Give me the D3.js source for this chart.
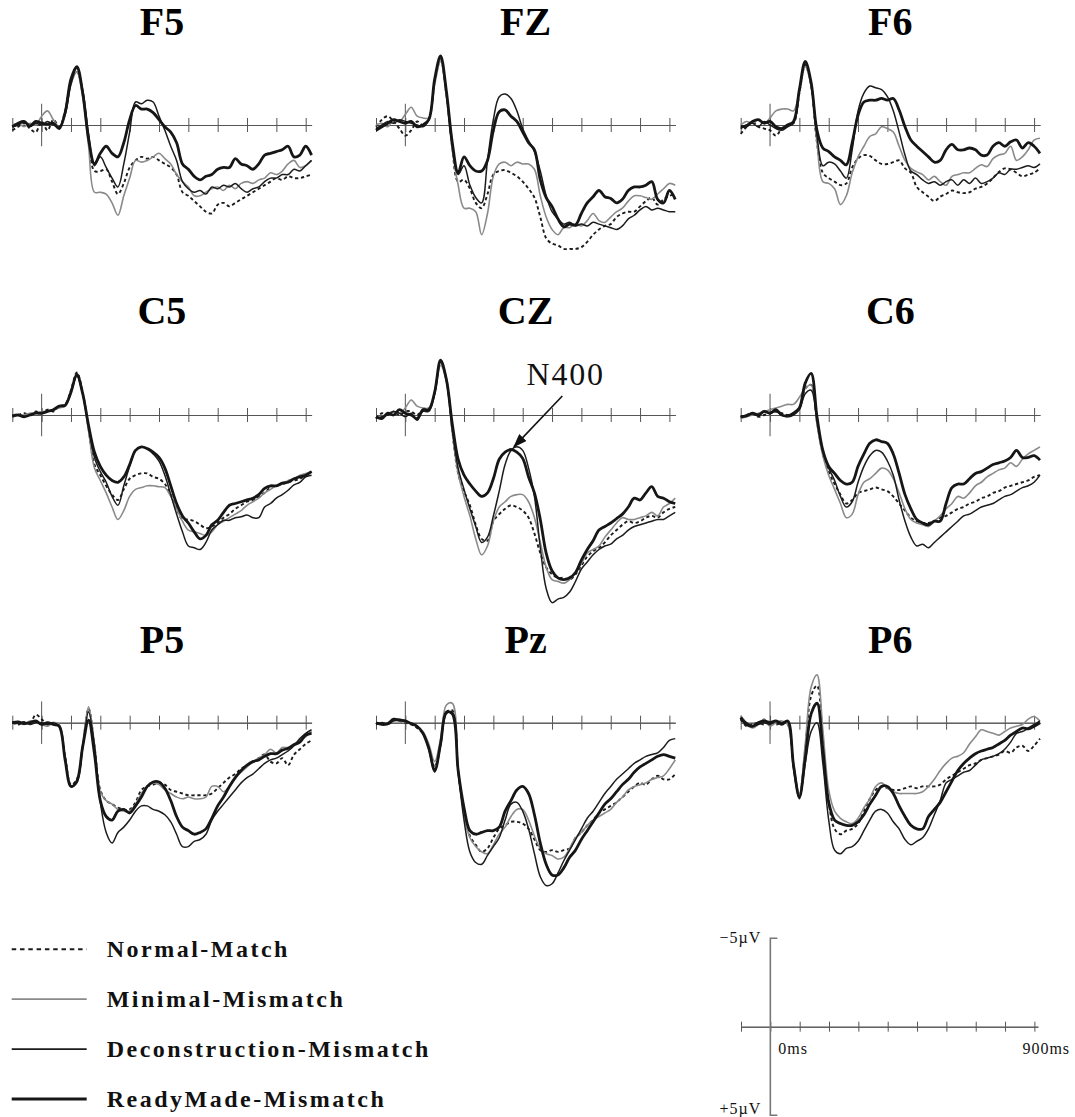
<!DOCTYPE html>
<html>
<head>
<meta charset="utf-8">
<script src="https://cdn.jsdelivr.net/npm/d3@7"></script>
<style>
  html, body { margin: 0; padding: 0; background: #fff; }
  svg { display: block; }
  .title { font-family: "Liberation Serif", "Times New Roman", serif; font-weight: bold; font-size: 40px; fill: #000; }
  .legend-label { font-family: "Liberation Serif", "Times New Roman", serif; font-weight: bold; font-size: 24px; letter-spacing: 2.5px; fill: #111; }
  .scale-label { font-family: "Liberation Serif", "Times New Roman", serif; font-size: 16px; letter-spacing: 1px; fill: #111; }
  .n400 { font-family: "Liberation Serif", "Times New Roman", serif; font-size: 32px; letter-spacing: 1.8px; fill: #111; }
  .axis path, .axis line { stroke: #555; stroke-width: 1; }
</style>
</head>
<body>
<div id="chart"></div>
<script>
// sample times (ms) shared by every waveform
const times = [-100,-80,-60,-40,-20,0,20,40,60,80,100,120,140,160,180,200,220,240,260,280,300,320,340,360,380,400,
  420,440,460,480,500,520,540,560,580,600,620,640,660,680,700,720,740,760,780,800,820,840,860,880,900,920];
const tickTimes = [-100,0,100,200,300,400,500,600,700,800,900];
const electrodes = ['F5','FZ','F6','C5','CZ','C6','P5','Pz','P6'];
const conditions = ['Normal-Match','Minimal-Mismatch','Deconstruction-Mismatch','ReadyMade-Mismatch'];

// amplitudes in µV (negative plotted up)
const f5Normal = [0.3,0.1,-0.1,0.2,0.4,-0.2,0.3,-0.3,0.1,
  -0.8,-2.5,-3.0,-1.8,0.8,2.6,2.6,2.5,3.2,3.9,3.3,
  2.4,2.0,1.8,1.9,1.8,2.0,2.2,2.4,2.8,3.8,4.0,
  4.3,4.6,4.9,5.0,4.5,4.4,4.6,4.4,4.2,4.0,3.8,
  3.6,3.4,3.2,3.0,3.1,2.9,3.0,3.0,2.9,2.8];
const f5Minimal = [0.0,-0.1,0.1,-0.1,0.0,-0.5,-0.8,-0.3,0.1,
  -0.6,-2.3,-3.0,-1.6,1.2,3.8,3.8,3.9,4.4,5.1,4.0,
  3.0,2.0,2.1,2.0,1.8,1.6,1.9,2.2,2.8,3.2,3.5,
  4.0,4.0,3.8,3.6,3.5,3.7,3.4,3.6,3.3,3.2,3.3,
  3.1,3.0,2.7,2.8,2.6,2.2,2.0,2.4,2.3,2.0];
const f5Decon = [0.1,0.0,-0.2,0.1,-0.1,0.0,-0.2,0.0,0.1,
  -0.6,-2.3,-3.2,-2.0,0.5,2.3,1.8,2.4,3.0,3.5,2.2,
  0.4,-1.3,-1.2,-1.4,-1.3,-0.5,0.3,1.2,2.0,3.2,3.6,
  3.8,3.7,3.9,3.5,3.6,3.4,3.5,3.3,3.6,3.8,3.6,
  3.5,3.2,3.0,3.0,2.8,2.8,2.5,2.6,2.3,2.0];
const f5Ready = [0.1,-0.1,-0.2,0.05,-0.2,-0.1,-0.05,-0.1,0.2,
  -0.7,-2.6,-3.3,-1.8,0.8,2.2,1.6,1.2,1.6,1.8,1.0,
  -0.3,-1.1,-0.9,-0.9,-0.7,-0.3,0.1,0.4,1.0,2.2,2.5,
  2.9,3.1,2.9,2.8,2.5,2.4,2.4,1.9,2.2,2.3,2.5,
  2.2,1.7,1.6,1.5,1.4,1.2,1.8,1.7,1.2,1.7];

const fzNormal = [0.1,-0.3,-0.5,-0.2,0.2,0.6,0.3,-0.2,0.0,
  -0.3,-2.4,-3.7,-1.7,1.3,3.2,3.1,3.6,4.4,4.7,3.9,
  2.8,2.6,2.55,2.7,2.9,3.2,3.6,4.1,5.2,6.4,6.7,
  6.8,7.0,7.0,7.0,6.9,6.6,6.2,5.9,5.7,5.6,5.2,
  5.0,4.9,4.9,4.6,4.3,4.1,4.5,4.2,4.0,3.9];
const fzMinimal = [0.0,-0.1,0.1,-0.3,-0.2,-0.6,-1.0,-0.5,-0.4,
  -0.4,-2.3,-3.6,-1.6,1.4,3.4,4.7,4.7,4.9,6.2,5.0,
  2.9,2.2,2.1,2.3,2.1,2.2,2.2,2.5,4.0,5.2,5.9,
  6.2,5.8,5.8,5.6,5.7,5.4,5.0,5.4,5.5,5.2,4.9,
  4.7,4.3,4.0,4.0,4.1,4.2,3.9,3.6,3.3,3.4];
const fzDecon = [0.2,0.0,-0.2,-0.1,-0.3,-0.2,-0.1,0.0,0.1,
  -0.3,-2.5,-3.8,-1.8,1.2,2.8,2.3,3.4,4.1,4.4,2.0,
  -0.3,-1.6,-1.75,-1.5,-0.8,0.2,0.9,1.5,2.6,4.0,4.9,
  5.3,5.6,5.5,5.7,5.6,5.7,5.5,5.6,5.7,5.8,5.9,
  5.7,5.3,5.1,4.8,4.6,4.8,4.7,4.8,4.9,4.9];
const fzReady = [0.3,0.1,-0.1,-0.3,-0.2,-0.1,-0.2,0.1,0.0,
  -0.3,-2.6,-3.9,-1.9,1.0,2.7,1.8,2.3,2.6,2.6,2.0,
  0.3,-0.75,-0.85,-0.5,-0.2,0.4,1.0,1.4,3.1,4.1,4.6,
  5.3,5.75,5.6,5.65,5.0,4.4,4.05,3.7,4.05,4.15,4.4,
  4.2,3.7,3.5,3.5,3.4,3.2,4.2,4.4,3.7,4.2];

const f6Normal = [0.5,0.1,-0.2,0.1,0.2,0.3,0.6,0.2,0.0,
  -0.1,-1.8,-3.4,-2.2,1.0,2.7,3.0,3.2,3.4,3.3,2.4,
  1.9,1.7,1.75,2.0,2.2,2.2,2.1,2.0,2.45,2.7,3.5,
  3.8,4.05,4.3,4.05,3.9,3.7,3.8,3.85,3.8,3.6,3.5,
  3.3,3.0,2.65,2.45,2.5,2.7,2.9,2.8,2.7,2.45];
const f6Minimal = [0.0,-0.2,-0.1,-0.3,-0.1,-0.4,-0.8,-0.9,-0.9,
  -0.8,-1.9,-3.3,-2.2,1.0,3.2,3.3,3.6,4.5,4.0,2.7,
  1.8,1.2,0.65,0.5,0.1,0.2,0.4,1.2,2.0,2.45,2.65,
  2.8,3.1,2.9,3.2,3.4,2.9,2.8,2.7,2.7,2.45,2.25,
  2.35,1.9,1.7,1.6,1.2,2.0,1.8,1.4,0.85,0.75];
const f6Decon = [0.2,0.0,-0.1,0.1,-0.2,0.0,0.2,0.3,0.1,
  -0.1,-1.9,-3.5,-2.4,0.6,2.3,2.1,2.2,2.6,3.0,1.4,
  -0.8,-1.8,-2.2,-2.1,-2.0,-1.6,-0.8,0.4,1.7,2.6,2.8,
  3.1,3.3,3.2,3.4,3.2,3.1,3.4,3.1,3.3,3.0,3.3,
  3.2,3.0,2.7,2.8,2.5,2.5,2.4,2.3,2.4,2.2];
const f6Ready = [0.1,0.05,-0.2,-0.3,-0.1,-0.2,0.1,0.2,0.0,
  -0.2,-2.0,-3.6,-2.4,0.3,1.3,1.5,1.8,2.0,2.25,1.0,
  -0.55,-1.3,-1.4,-1.4,-1.5,-1.4,-1.5,-0.85,0.1,0.85,1.2,
  1.5,1.8,2.1,2.0,1.4,1.1,1.4,1.4,1.3,1.4,1.7,
  1.7,1.2,1.0,1.2,0.95,0.85,1.3,1.0,1.2,1.6];

const c5Normal = [0.1,0.0,-0.1,0.0,-0.2,-0.1,-0.3,-0.2,-0.5,
  -0.6,-1.4,-2.4,-1.3,0.8,2.8,3.4,4.0,4.5,4.8,4.2,
  3.6,3.4,3.3,3.3,3.5,3.6,3.9,4.5,5.3,5.9,5.9,
  6.0,6.2,6.4,6.3,6.1,5.8,5.6,5.3,5.1,4.9,4.8,
  4.6,4.4,4.1,4.0,3.9,3.8,3.7,3.6,3.4,3.2];
const c5Minimal = [0.1,0.0,0.0,-0.1,-0.1,-0.2,-0.2,-0.3,-0.4,
  -0.5,-1.2,-2.2,-1.2,0.9,3.0,3.7,4.4,5.2,5.9,5.4,
  4.6,4.2,4.1,4.0,4.0,4.05,4.1,4.6,5.3,6.0,6.5,
  6.6,6.7,6.8,6.6,6.2,6.0,5.8,5.6,5.4,5.1,4.9,
  4.7,4.4,4.2,4.0,3.9,3.7,3.6,3.4,3.3,3.2];
const c5Decon = [0.05,0.0,0.1,0.0,-0.1,-0.1,-0.2,-0.3,-0.5,
  -0.55,-1.3,-2.2,-1.2,0.7,2.4,3.2,3.8,4.6,5.1,4.0,
  2.9,2.0,1.8,1.9,2.2,2.6,3.4,4.5,5.6,6.6,7.4,
  7.5,7.6,7.2,6.5,6.2,5.95,5.95,5.8,5.75,5.65,5.8,
  5.8,5.2,5.0,4.7,4.5,4.25,3.95,3.8,3.5,3.4];
const c5Ready = [0.05,0.0,0.1,0.0,-0.1,-0.1,-0.2,-0.3,-0.5,
  -0.55,-1.3,-2.3,-1.2,0.6,2.1,2.9,3.4,3.7,3.8,3.5,
  2.8,2.0,1.8,1.9,2.1,2.4,3.0,4.0,5.0,5.7,6.1,
  6.6,7.0,6.8,6.2,5.95,5.5,5.1,5.0,4.9,4.8,4.7,
  4.5,4.15,4.0,4.0,3.85,3.8,3.6,3.5,3.4,3.2];

const czNormal = [0.2,-0.1,0.0,-0.2,0.0,-0.2,-0.2,0.0,-0.3,
  -0.3,-1.3,-3.0,-2.0,0.9,3.3,4.3,5.1,6.2,7.0,7.1,
  6.0,5.6,5.3,5.1,5.2,5.4,5.8,6.7,7.8,8.6,9.0,
  9.2,9.2,9.3,9.0,8.5,8.0,7.7,7.5,7.2,6.8,6.5,
  6.2,6.0,6.1,6.0,5.8,5.7,5.8,5.5,5.3,5.2];
const czMinimal = [0.2,0.1,-0.1,-0.2,-0.1,-0.4,-0.85,-0.5,-0.4,
  -0.4,-1.2,-2.8,-1.9,1.0,3.3,4.6,5.7,7.0,7.9,7.4,
  6.0,5.2,4.9,4.6,4.5,4.5,4.9,5.8,7.2,8.6,9.3,
  9.4,9.5,9.3,8.9,8.4,7.8,7.6,7.4,6.9,6.5,6.1,
  5.8,5.9,5.9,5.8,5.7,5.5,5.7,5.2,5.0,4.7];
const czDecon = [0.2,0.1,0.0,-0.2,-0.1,0.1,-0.1,0.3,-0.2,
  -0.2,-1.2,-3.0,-2.0,0.8,3.0,4.2,5.3,6.3,7.2,6.9,
  5.7,4.3,2.8,2.0,1.8,2.0,3.0,4.6,7.5,9.8,10.6,
  10.4,10.3,10.0,9.4,8.7,8.3,7.9,7.6,7.4,7.3,7.0,
  6.8,6.5,6.3,6.2,6.1,6.0,5.9,5.9,5.7,5.5];
const czReady = [0.1,0.2,-0.1,0.0,-0.3,-0.1,0.0,0.2,-0.3,
  -0.3,-1.3,-3.1,-2.0,0.5,2.5,3.4,3.9,4.3,4.6,4.4,
  3.6,2.5,2.1,1.95,2.1,2.45,3.5,4.4,5.9,7.8,8.8,
  9.2,9.3,9.2,8.9,8.2,7.6,7.1,6.5,6.3,6.1,5.85,
  5.6,5.2,4.7,4.8,4.4,4.05,4.6,4.7,4.9,5.0];

const c6Normal = [0.1,0.0,-0.1,0.1,0.0,-0.1,-0.2,-0.1,0.0,
  -0.1,-0.4,-1.5,-1.7,0.4,2.2,3.2,3.9,4.5,5.0,4.8,
  4.4,4.3,4.2,4.1,4.2,4.3,4.6,5.0,5.4,5.8,6.0,
  6.1,6.1,6.0,5.8,5.7,5.5,5.3,5.2,5.0,4.9,4.7,
  4.6,4.4,4.3,4.1,4.0,3.9,3.8,3.7,3.5,3.4];
const c6Minimal = [0.2,0.1,0.0,-0.1,-0.2,-0.3,-0.4,-0.5,-0.6,
  -0.6,-1.0,-1.5,-1.7,0.5,2.3,3.4,4.2,5.0,5.8,5.6,
  4.5,3.8,3.6,3.3,3.0,3.1,3.6,4.4,5.3,5.9,6.1,
  6.2,6.3,6.0,5.7,5.3,5.0,4.6,4.7,4.4,4.0,3.8,
  3.5,3.3,3.1,3.0,2.7,2.9,2.5,2.2,2.0,1.8];
const c6Decon = [0.1,0.0,-0.1,0.05,-0.2,-0.1,-0.2,0.0,0.1,
  0.0,-0.3,-1.2,-1.4,0.3,2.0,3.0,3.7,4.6,5.2,4.9,
  3.8,2.9,2.3,2.0,2.1,2.6,3.4,4.8,6.0,6.9,7.4,
  7.3,7.5,7.2,6.9,6.6,6.3,6.0,5.7,5.6,5.4,5.2,
  5.1,5.0,4.8,4.6,4.5,4.3,4.1,4.0,3.8,3.4];
const c6Ready = [0.1,0.05,-0.1,0.0,-0.2,-0.1,-0.3,0.0,0.05,
  -0.1,-0.4,-1.8,-2.35,0.1,2.0,2.9,3.3,3.7,3.9,3.8,
  2.9,2.2,1.6,1.4,1.5,1.6,2.2,3.3,4.5,5.3,5.9,
  6.1,6.2,6.0,6.0,5.0,4.1,3.9,3.9,3.6,3.3,3.2,
  3.0,2.8,2.7,2.6,2.4,2.0,2.4,2.4,2.3,2.55];

const p5Normal = [0.0,0.1,0.0,0.05,-0.45,-0.2,0.1,0.0,0.2,
  1.9,3.5,3.2,1.3,-0.8,1.3,3.8,4.4,4.6,4.8,4.9,
  4.9,4.5,3.8,3.6,3.5,3.4,3.5,3.8,3.9,4.0,4.1,
  4.1,4.1,4.1,4.0,3.7,3.4,3.1,2.9,2.6,2.4,2.2,
  2.0,1.8,2.2,2.3,2.0,2.4,1.8,1.5,1.2,1.0];
const p5Minimal = [0.0,0.0,0.1,-0.1,0.0,0.1,0.2,0.0,0.1,
  2.0,3.6,3.3,1.2,-0.9,1.2,3.9,4.4,4.6,4.9,5.0,
  5.0,4.6,4.0,3.6,3.4,3.5,3.8,4.0,4.2,4.3,4.2,
  4.3,4.3,4.2,3.6,3.6,3.9,3.6,3.1,2.8,2.5,2.2,
  2.0,1.8,1.5,1.7,1.4,1.4,1.2,1.0,0.8,0.5];
const p5Decon = [0.0,0.05,-0.05,0.1,0.0,0.0,0.1,0.0,0.2,
  2.0,3.6,3.4,1.4,-0.6,1.3,4.5,6.2,6.8,6.2,5.9,
  5.5,5.0,4.7,4.7,4.9,5.0,5.2,5.6,6.3,7.0,7.0,
  6.7,6.6,6.3,5.5,5.0,4.6,4.2,3.8,3.4,3.1,2.9,
  2.6,2.3,2.1,2.0,1.8,1.6,1.3,0.9,0.6,0.4];
const p5Ready = [0.0,-0.05,0.05,0.0,-0.1,0.1,0.0,0.1,0.2,
  2.1,3.6,3.3,1.35,-0.15,1.75,4.4,5.3,5.5,5.0,4.9,
  5.1,4.7,4.2,3.6,3.35,3.35,3.7,4.4,5.3,5.9,6.1,
  6.3,6.2,6.0,5.4,4.7,4.2,3.6,3.1,2.7,2.4,2.2,
  2.1,1.9,1.75,1.75,1.55,1.45,1.25,1.1,0.7,0.6];

const pzNormal = [0.1,0.0,0.05,-0.15,-0.1,0.0,0.1,0.3,0.6,
  1.4,2.5,1.2,-0.6,-0.7,2.7,5.0,6.4,6.9,7.3,7.1,
  6.5,6.0,5.8,5.6,5.6,5.7,6.0,6.6,7.2,7.3,7.2,
  7.3,7.2,7.1,6.5,6.2,5.8,5.5,5.1,4.9,4.7,4.5,
  4.2,3.9,3.6,3.4,3.5,3.2,3.0,3.2,3.2,2.9];
const pzMinimal = [0.0,0.05,0.0,-0.1,-0.1,-0.05,0.05,0.2,0.5,
  1.2,2.2,0.9,-1.0,-1.1,2.6,5.2,6.5,7.0,7.3,7.4,
  6.9,6.3,5.9,5.3,4.9,4.9,5.5,6.4,7.1,7.4,7.5,
  7.7,7.6,7.1,6.5,6.2,5.8,5.5,5.3,5.1,4.9,4.5,
  4.2,3.8,3.6,3.5,3.4,3.2,3.1,3.0,2.6,2.1];
const pzDecon = [0.05,0.0,0.1,-0.1,-0.2,-0.1,0.05,0.2,0.6,
  1.5,2.8,1.3,-0.5,-0.6,2.8,5.5,7.3,7.9,8.0,7.5,
  7.0,6.5,5.5,4.6,4.5,5.0,6.0,7.4,8.7,9.2,9.1,
  8.5,7.8,7.2,6.6,6.0,5.4,5.0,4.5,4.0,3.6,3.2,
  2.9,2.6,2.3,2.1,1.9,1.8,1.7,1.4,1.0,0.9];
const pzReady = [0.0,0.1,0.05,-0.2,-0.15,-0.1,0.05,0.2,0.6,
  1.45,2.7,1.2,-0.6,-0.5,2.7,4.8,6.1,6.3,6.2,6.1,
  6.1,5.9,5.0,4.4,3.8,3.6,4.0,5.2,6.8,8.0,8.6,
  8.6,8.2,7.6,7.2,6.6,6.1,5.6,5.1,4.6,4.3,3.9,
  3.5,3.2,2.8,2.5,2.3,2.1,1.9,1.8,1.9,2.0];

const p6Normal = [-0.2,0.2,0.1,0.0,0.1,-0.1,0.1,0.0,0.1,
  2.4,4.1,1.5,-1.5,-2.1,1.0,4.5,6.0,6.3,6.1,6.0,
  5.7,5.0,4.3,3.8,3.6,3.7,3.8,3.8,3.7,3.6,3.7,
  3.6,3.6,3.6,3.5,3.2,3.0,2.8,2.6,2.4,2.3,2.1,
  2.0,1.9,1.8,1.6,1.7,1.4,1.3,1.6,1.3,0.9];
const p6Minimal = [-0.4,0.0,0.3,0.1,-0.2,0.2,0.0,-0.1,0.1,
  2.3,4.0,1.2,-2.0,-2.7,0.4,3.8,5.0,5.4,5.6,5.7,
  5.4,4.8,4.3,3.6,3.4,3.7,3.9,4.0,4.0,4.0,4.0,
  3.9,3.6,3.2,2.7,2.3,2.0,1.9,1.7,1.2,0.8,0.4,
  0.5,0.6,0.7,0.5,0.3,0.2,0.1,-0.2,-0.35,-0.1];
const p6Decon = [-0.2,0.0,0.2,0.1,0.0,0.1,-0.1,0.0,-0.1,
  2.6,4.3,2.3,0.5,0.0,2.3,5.5,7.2,7.4,7.1,7.0,
  6.7,6.1,5.5,5.0,4.9,5.1,5.6,6.0,6.6,6.9,6.7,
  6.5,6.0,5.2,4.4,3.4,3.2,3.0,2.8,2.7,2.4,2.1,
  2.0,1.9,1.75,1.5,1.1,0.6,0.5,0.3,0.1,-0.1];
const p6Ready = [-0.3,0.1,0.2,0.0,-0.1,0.0,-0.1,0.1,-0.1,
  2.4,4.2,2.0,-0.5,-1.1,1.5,4.5,5.5,5.7,5.8,5.8,
  5.6,5.2,4.6,4.1,3.6,3.6,4.0,4.7,5.3,5.8,6.0,
  6.0,5.3,4.9,4.5,3.9,3.3,2.7,2.3,2.0,1.75,1.6,
  1.5,1.4,1.2,1.0,0.7,0.5,0.3,0.35,0.2,0.0];

// N400 callout on CZ, in data units (ms, µV)
const n400Target = [370, 1.8];
const n400Tail = [535, -1.07];
const n400Text = [413, -1.7];

const waves = {
  F5: [f5Normal, f5Minimal, f5Decon, f5Ready],
  FZ: [fzNormal, fzMinimal, fzDecon, fzReady],
  F6: [f6Normal, f6Minimal, f6Decon, f6Ready],
  C5: [c5Normal, c5Minimal, c5Decon, c5Ready],
  CZ: [czNormal, czMinimal, czDecon, czReady],
  C6: [c6Normal, c6Minimal, c6Decon, c6Ready],
  P5: [p5Normal, p5Minimal, p5Decon, p5Ready],
  Pz: [pzNormal, pzMinimal, pzDecon, pzReady],
  P6: [p6Normal, p6Minimal, p6Decon, p6Ready]
};
Object.entries(waves).forEach(([k, list]) => list.forEach((a, i) => {
  if (a.length !== times.length) throw new Error(`${k} series ${i} has ${a.length} points`);
}));

const STYLES = [
  { stroke: '#1c1c1c', width: 1.9, dash: '3.3,2.7' },
  { stroke: '#8a8a8a', width: 1.6, dash: null },
  { stroke: '#1c1c1c', width: 1.5, dash: null },
  { stroke: '#161616', width: 2.8, dash: null }
];
const LEGEND_DASH = '4.5,3.8';

const WIDTH = 1075, HEIGHT = 1117;
const COL_LEFT = [12.3, 376, 740.7];
const ROW_AXIS = [125, 415, 722.7];
const TITLE_BASE = [35, 323.5, 653];
const MS_PX = 0.2934;
const UV_PX = 17.7;

const svg = d3.select('#chart').append('svg')
  .attr('width', WIDTH).attr('height', HEIGHT)
  .attr('viewBox', `0 0 ${WIDTH} ${HEIGHT}`);

function scalesFor(x0, y0, tEnd) {
  const x = d3.scaleLinear().domain([-100, tEnd]).range([x0, x0 + (tEnd + 100) * MS_PX]);
  const y = d3.scaleLinear().domain([-5, 5]).range([y0 - 5 * UV_PX, y0 + 5 * UV_PX]);
  return { x, y };
}

function drawTimeAxis(g, x, y, tick) {
  g.append('g').attr('class', 'axis')
    .attr('transform', `translate(0,${y(0)})`)
    .call(d3.axisBottom(x).tickValues(tickTimes).tickSize(tick).tickSizeOuter(0).tickFormat(''));
  g.append('g').attr('class', 'axis')
    .attr('transform', `translate(0,${y(0)})`)
    .call(d3.axisTop(x).tickValues(tickTimes).tickSize(tick).tickSizeOuter(0).tickFormat(''));
}

let czScales = null;

electrodes.forEach((name, i) => {
  const col = i % 3, row = Math.floor(i / 3);
  const { x, y } = scalesFor(COL_LEFT[col], ROW_AXIS[row], 920);
  if (name === 'CZ') czScales = { x, y };
  const g = svg.append('g').attr('class', 'panel');

  drawTimeAxis(g, x, y, 7);
  g.append('line')
    .attr('x1', x(0)).attr('x2', x(0))
    .attr('y1', y(-1.2)).attr('y2', y(1.2))
    .attr('stroke', '#555').attr('stroke-width', 1);

  g.append('text').attr('class', 'title')
    .attr('x', x(410)).attr('y', TITLE_BASE[row])
    .attr('text-anchor', 'middle')
    .text(name);

  const line = d3.line()
    .x((d, j) => x(times[j]))
    .y((d) => y(d))
    .curve(d3.curveCatmullRom.alpha(0.5));

  waves[name].forEach((vals, k) => {
    const s = STYLES[k];
    g.append('path').datum(vals)
      .attr('fill', 'none')
      .attr('stroke', s.stroke)
      .attr('stroke-width', s.width)
      .attr('stroke-dasharray', s.dash)
      .attr('stroke-linejoin', 'round')
      .attr('d', line);
  });
});

// N400 annotation
svg.append('defs').append('marker')
  .attr('id', 'arrow').attr('markerUnits', 'userSpaceOnUse')
  .attr('markerWidth', 14).attr('markerHeight', 10)
  .attr('refX', 13).attr('refY', 5).attr('orient', 'auto')
  .append('path').attr('d', 'M0,0 L14,5 L0,10 Z').attr('fill', '#111');

svg.append('line')
  .attr('x1', czScales.x(n400Tail[0])).attr('y1', czScales.y(n400Tail[1]))
  .attr('x2', czScales.x(n400Target[0])).attr('y2', czScales.y(n400Target[1]))
  .attr('stroke', '#111').attr('stroke-width', 1.6)
  .attr('marker-end', 'url(#arrow)');
svg.append('text').attr('class', 'n400')
  .attr('x', czScales.x(n400Text[0])).attr('y', czScales.y(n400Text[1]))
  .text('N400');

// legend
const legendY = d3.scalePoint().domain(conditions).range([949.3, 1099]);
const legend = svg.append('g').attr('class', 'legend');
conditions.forEach((c, k) => {
  const s = STYLES[k];
  legend.append('line')
    .attr('x1', 11.7).attr('x2', 86.7)
    .attr('y1', legendY(c)).attr('y2', legendY(c))
    .attr('stroke', s.stroke)
    .attr('stroke-width', k === 3 ? 3 : (k === 0 ? 2 : 1.7))
    .attr('stroke-dasharray', k === 0 ? LEGEND_DASH : null);
  legend.append('text').attr('class', 'legend-label')
    .attr('x', 106.7).attr('y', legendY(c) + 7.6)
    .text(c);
});

// scale bar
const sb = scalesFor(741, 1026.7, 912);
const sbg = svg.append('g').attr('class', 'scalebar');
drawTimeAxis(sbg, sb.x, sb.y, 5);
sbg.append('path')
  .attr('d', `M${sb.x(0) + 7},${sb.y(-5)} H${sb.x(0)} V${sb.y(5)} H${sb.x(0) + 7}`)
  .attr('fill', 'none').attr('stroke', '#777').attr('stroke-width', 1.6);
sbg.append('text').attr('class', 'scale-label')
  .attr('x', sb.x(0) - 9).attr('y', sb.y(-5)).attr('dy', '0.32em')
  .attr('text-anchor', 'end').text('\u22125\u00b5V');
sbg.append('text').attr('class', 'scale-label')
  .attr('x', sb.x(0) - 9).attr('y', HEIGHT - 3)
  .attr('text-anchor', 'end').text('+5\u00b5V');
sbg.append('text').attr('class', 'scale-label')
  .attr('x', sb.x(0) + 8).attr('y', sb.y(0) + 27)
  .text('0ms');
sbg.append('text').attr('class', 'scale-label')
  .attr('x', sb.x(900) - 12).attr('y', sb.y(0) + 27)
  .text('900ms');
</script>
</body>
</html>
